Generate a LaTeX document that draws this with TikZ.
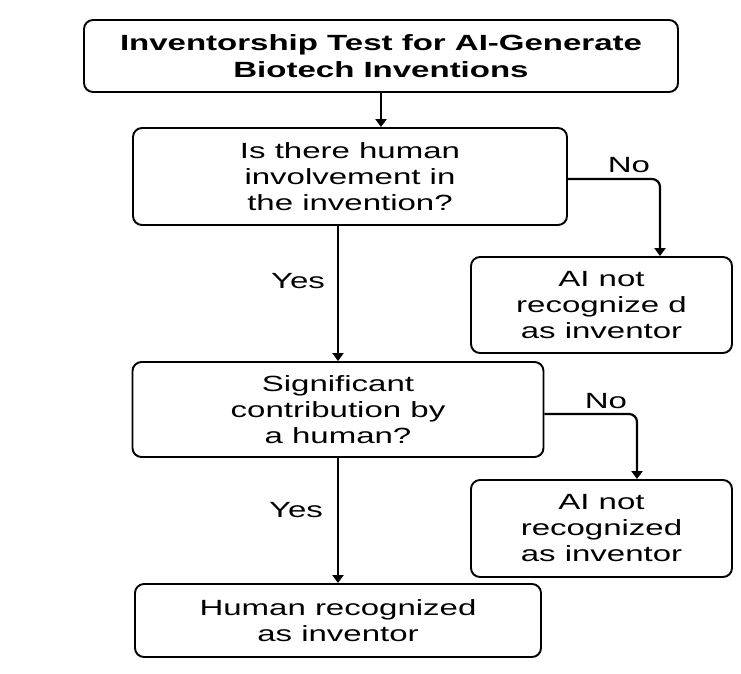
\documentclass[tikz,border=0pt]{standalone}
\usepackage{fontspec}
\setmainfont{Liberation Sans}[FakeStretch=1.5]
\usetikzlibrary{arrows.meta}

\begin{document}
\begin{tikzpicture}[x=1pt,y=-1pt,>={Triangle[width=11pt,length=8pt]}]

\useasboundingbox (0,0) rectangle (741,673);

\begin{scope}[every node/.style={draw,line width=1.9pt,rounded corners=9pt,align=center,inner sep=0pt,font=\fontsize{22}{26}\selectfont}]
	%Title
	\node[minimum width=594pt,minimum height=72pt,font=\bfseries\fontsize{22}{27}\selectfont] (test) at (381,56) {Inventorship Test for AI-Generate\\Biotech Inventions};
	
	%Question 1
	\node[minimum width=434pt,minimum height=97pt] (q1) at (350,176.5) {Is there human\\involvement in\\the invention?};
	\node[minimum width=261pt,minimum height=96pt] (ai1) at (601.5,305) {AI not\\recognize d\\as inventor};
	
	%Question 2
	\node[minimum width=411pt,minimum height=95pt] (q2) at (338,409.5) {Significant\\contribution by\\a human?};
	\node[minimum width=261pt,minimum height=97pt] (ai2) at (601.5,528.5) {AI not\\recognized\\as inventor};
	
	%Result
	\node[minimum width=406pt,minimum height=73pt] (human) at (338,620.5) {Human recognized\\as inventor};
\end{scope}

\begin{scope}[every node/.style={font=\fontsize{22}{26}\selectfont}]
	\node (no1) at (629,165) {No};
	\node (yes1) at (298,281) {Yes};
	\node (no2) at (606,401) {No};
	\node (yes2) at (296,510) {Yes};
\end{scope}

\begin{scope}[line width=2.2pt]
	\draw [->] (test.south) -- (test.south |- q1.north);
	
	\draw [->] (q2.north |- q1.south) -- (q2.north);
	\draw [->,rounded corners=8pt] ([yshift=-2.5pt]q1.east) -| ([xshift=58.5pt]ai1.north);
	
	\draw [->] (q2.south) -- (human.north);
	\draw [->,rounded corners=8pt] ([yshift=-4.5pt]q2.east) -| ([xshift=35.5pt]ai2.north);
\end{scope}

\end{tikzpicture}
\end{document}
